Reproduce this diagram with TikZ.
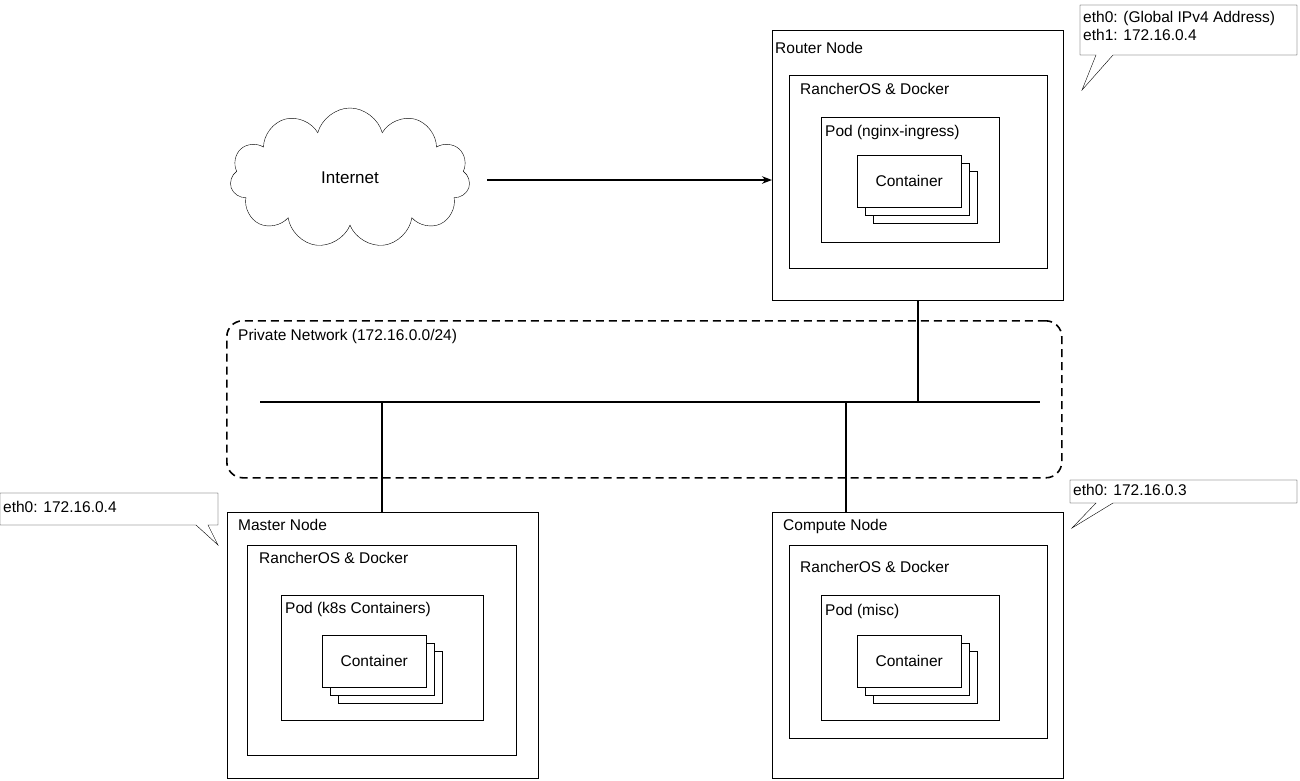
\documentclass[tikz,border=0pt]{standalone}
\usepackage{fontspec}
\setmainfont{Liberation Sans}
\usetikzlibrary{shapes,arrows,positioning,backgrounds,fit,shadows,arrows.meta}

\tikzset{
    box/.style={rectangle, draw, fill=white, anchor=north west, inner sep=0pt},
    lbl/.style={anchor=north west, inner sep=0pt, font=\fontsize{15.5}{18}\selectfont},
    cont/.style={rectangle, draw, fill=white, minimum width=104pt, minimum height=52pt,
        anchor=north west, font=\fontsize{15.5}{18}\selectfont,
        double copy shadow={shadow xshift=8pt, shadow yshift=-8pt, fill=white, draw}},
    link/.style={line width=1.2pt}
}

\begin{document}
\begin{tikzpicture}[x=1pt, y=-1pt]
    \useasboundingbox (0,0) rectangle (1300,780);

    % Internet
    \node[cloud, draw, cloud puffs=11, aspect=1.8, minimum width=240pt, minimum height=140pt,
        font=\fontsize{17}{20}\selectfont] (internet) at (350,178) {Internet};

    % Router node
    \node[box, minimum width=291pt, minimum height=270pt] (router) at (772,30) {};
    \node[lbl] (routerlbl) at (775,42) {Router Node};
    \node[box, minimum width=258pt, minimum height=193pt] (rosR) at (789,75) {};
    \node[lbl] (rosRlbl) at (800,83) {RancherOS \& Docker};
    \node[box, minimum width=178pt, minimum height=125pt] (podR) at (821,117) {};
    \node[lbl] (podRlbl) at (825,125) {Pod (nginx-ingress)};
    \node[cont] (contR) at (857,155) {Container};

    % Master node
    \node[box, minimum width=311pt, minimum height=266pt] (master) at (227,512) {};
    \node[lbl] (masterlbl) at (238,519) {Master Node};
    \node[box, minimum width=269pt, minimum height=210pt] (rosM) at (247,545) {};
    \node[lbl] (rosMlbl) at (259,552) {RancherOS \& Docker};
    \node[box, minimum width=202pt, minimum height=125pt] (podM) at (281,595) {};
    \node[lbl] (podMlbl) at (285,602) {Pod (k8s Containers)};
    \node[cont] (contM) at (322,635) {Container};

    % Compute node
    \node[box, minimum width=291pt, minimum height=266pt] (compute) at (772,512) {};
    \node[lbl] (computelbl) at (783,519) {Compute Node};
    \node[box, minimum width=258pt, minimum height=193pt] (rosC) at (789,545) {};
    \node[lbl] (rosClbl) at (800,561) {RancherOS \& Docker};
    \node[box, minimum width=178pt, minimum height=125pt] (podC) at (821,595) {};
    \node[lbl] (podClbl) at (825,604) {Pod (misc)};
    \node[cont] (contC) at (857,635) {Container};

    % Private network
    \node[rectangle, draw, dash pattern=on 8pt off 5pt, line width=1.6pt, rounded corners=16pt,
        anchor=north west, minimum width=835pt, minimum height=157pt] (privnet) at (226,320) {};
    \node[lbl] (privlbl) at (238,329) {Private Network (172.16.0.0/24)};
    \coordinate (busL) at (260,402);
    \coordinate (busR) at (1040,402);
    \draw[link] (busL) -- (busR);
    \coordinate (tapR) at (918,402);
    \coordinate (tapM) at (382,402);
    \coordinate (tapC) at (846,402);
    \draw[link] (router.south -| tapR) -- (tapR);
    \draw[link] (tapM) -- (master.north -| tapM);
    \draw[link] (tapC) -- (compute.north -| tapC);

    % Internet link
    \coordinate (netout) at (487,180);
    \draw[link, -{Stealth[length=10pt]}] (netout) -- (router.west |- netout);

    % Callouts
    \draw[fill=white] (1080,5) -- (1297,5) -- (1297,55) -- (1113,55) -- (1082,90) -- (1096,55)
        -- (1080,55) -- cycle;
    \node[lbl, align=left] (calloutR) at (1083,11) {eth0: (Global IPv4 Address)\\eth1: 172.16.0.4};
    \draw[fill=white] (0,493) -- (218,493) -- (218,525) -- (208,525) -- (218,545) -- (196,525)
        -- (0,525) -- cycle;
    \node[lbl] (calloutM) at (3,501) {eth0: 172.16.0.4};
    \draw[fill=white] (1070,480) -- (1297,480) -- (1297,503) -- (1113,503) -- (1072,528)
        -- (1096,503) -- (1070,503) -- cycle;
    \node[lbl] (calloutC) at (1073,484) {eth0: 172.16.0.3};
\end{tikzpicture}
\end{document}
